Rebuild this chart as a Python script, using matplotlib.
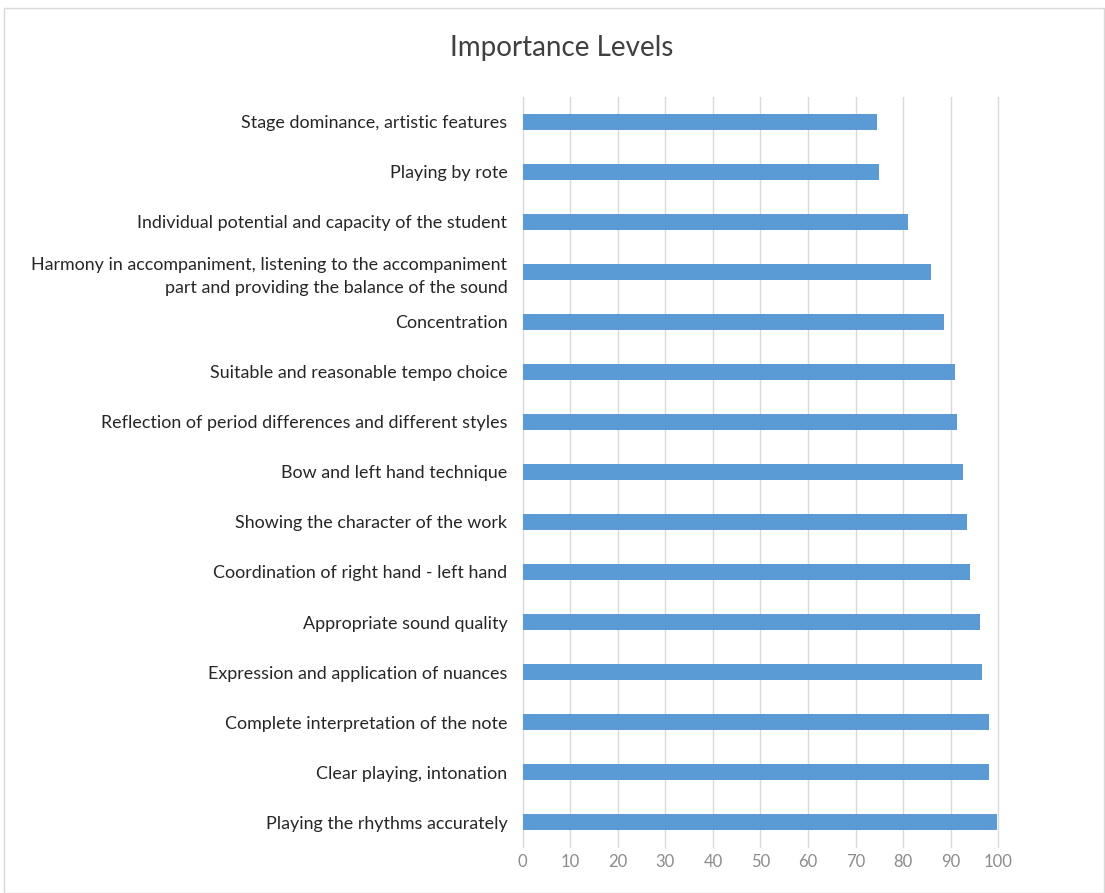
import matplotlib.pyplot as plt
from matplotlib.patches import Rectangle

categories = [
    'Stage dominance, artistic features',
    'Playing by rote',
    'Individual potential and capacity of the student',
    'Harmony in accompaniment, listening to the accompaniment\npart and providing the balance of the sound',
    'Concentration',
    'Suitable and reasonable tempo choice',
    'Reflection of period differences and different styles',
    'Bow and left hand technique',
    'Showing the character of the work',
    'Coordination of right hand - left hand',
    'Appropriate sound quality',
    'Expression and application of nuances',
    'Complete interpretation of the note',
    'Clear playing, intonation',
    'Playing the rhythms accurately',
]
values = [74.6, 74.9, 81.0, 85.8, 88.6, 90.8, 91.3, 92.6, 93.5, 94.1, 96.2, 96.6, 98.0, 98.1, 99.7]
xticks = [0, 10, 20, 30, 40, 50, 60, 70, 80, 90, 100]

plt.rcParams['font.family'] = ['Lato', 'DejaVu Sans']

fig = plt.figure(figsize=(11.05, 8.93), dpi=100)
ax = fig.add_axes([0.473, 0.0515, 0.4304, 0.8399])

pos = list(range(len(categories)))
ax.barh(pos, values, height=0.32, color='#5B9BD5', zorder=3)
ax.set_ylim(len(categories) - 0.5, -0.5)
ax.set_yticks(pos)
ax.set_yticklabels(categories, fontsize=12.9, color='#262626', linespacing=1.5)
ax.set_xlim(0, 100)
ax.set_xticks(xticks)
ax.set_xticklabels([str(t) for t in xticks], fontsize=12, color='#8c8c8c')
ax.grid(axis='x', color='#d9d9d9', linewidth=1, zorder=0)
for gl in ax.get_xgridlines():
    gl.set_clip_on(False)
for s in ax.spines.values():
    s.set_visible(False)
ax.tick_params(axis='y', length=0, pad=11)
ax.tick_params(axis='x', length=0, pad=5)

fig.text(0.508, 0.946, 'Importance Levels', ha='center', va='center', fontsize=20, color='#404040')
fig.patches.append(Rectangle((0.004, 0.0), 0.995, 0.991, transform=fig.transFigure,
                             fill=False, edgecolor='#d9d9d9', linewidth=1))

fig.savefig('out.png', dpi=100)
